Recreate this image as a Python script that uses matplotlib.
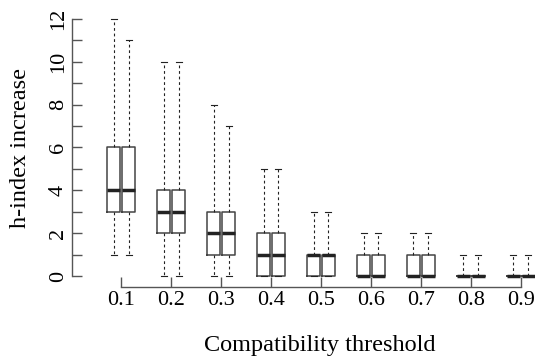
import matplotlib
matplotlib.use("Agg")
import matplotlib.pyplot as plt

plt.rcParams['font.family'] = ['Liberation Serif', 'DejaVu Serif']

thresholds = [0.1, 0.2, 0.3, 0.4, 0.5, 0.6, 0.7, 0.8, 0.9]

# per threshold: (whisker low, q1, median, q3, whisker high), two boxes each
stats_a = [
    (1, 3, 4, 6, 12),
    (0, 2, 3, 4, 10),
    (0, 1, 2, 3, 8),
    (0, 0, 1, 2, 5),
    (0, 0, 1, 1, 3),
    (0, 0, 0, 1, 2),
    (0, 0, 0, 1, 2),
    (0, 0, 0, 0, 1),
    (0, 0, 0, 0, 1),
]
stats_b = [
    (1, 3, 4, 6, 11),
    (0, 2, 3, 4, 10),
    (0, 1, 2, 3, 7),
    (0, 0, 1, 2, 5),
    (0, 0, 1, 1, 3),
    (0, 0, 0, 1, 2),
    (0, 0, 0, 1, 2),
    (0, 0, 0, 0, 1),
    (0, 0, 0, 0, 1),
]


def to_bxp(rows):
    out = []
    for lo, q1, med, q3, hi in rows:
        out.append({"whislo": lo, "q1": q1, "med": med, "q3": q3,
                    "whishi": hi, "fliers": []})
    return out


fig = plt.figure(figsize=(5.35, 3.61), dpi=100)
ax = fig.add_axes([72 / 535, 74 / 361, 463 / 535, 279 / 361])

off = 0.0148
wid = 0.026
edge = "#444444"
box_kw = dict(
    widths=wid,
    capwidths=0.012,
    showfliers=False,
    boxprops=dict(color=edge, linewidth=1.1),
    whiskerprops=dict(color="#222222", linewidth=0.8, linestyle=(0, (2.5, 2.5))),
    capprops=dict(color="#222222", linewidth=0.8),
    medianprops=dict(color="#222222", linewidth=2.5, solid_capstyle="butt"),
    manage_ticks=False,
)
ax.bxp(to_bxp(stats_a), positions=[t - off for t in thresholds], **box_kw)
ax.bxp(to_bxp(stats_b), positions=[t + off for t in thresholds], **box_kw)

ax.set_xlim(0.0012, 0.9287)
ax.set_ylim(-0.51, 12.5)

ax.set_xticks(thresholds)
ax.set_xticklabels([str(t) for t in thresholds])
ax.set_yticks(range(0, 13))
ax.set_yticklabels([str(v) if v % 2 == 0 else "" for v in range(0, 13)],
                   rotation=90, va="center")

for s in ["top", "right"]:
    ax.spines[s].set_visible(False)
ax.spines["left"].set_bounds(0, 12)
ax.spines["bottom"].set_bounds(0.1, 0.9)
for s in ["left", "bottom"]:
    ax.spines[s].set_color("#555555")
    ax.spines[s].set_linewidth(1.0)

ax.tick_params(direction="in", length=7, width=1.0, color="#555555",
               labelsize=16, pad=3)

ax.set_xlabel("Compatibility threshold", fontsize=17.5)
ax.set_ylabel("h-index increase", fontsize=17.5)
# the label sits centred on the wider plot region, not on the axes
ax.xaxis.set_label_coords(0.536, -0.172)
ax.yaxis.set_label_coords(-0.088, 0.5)

fig.savefig("out.png", dpi=100)
